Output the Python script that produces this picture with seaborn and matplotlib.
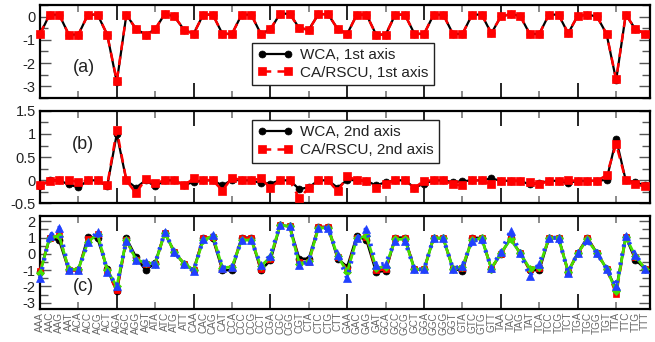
import matplotlib
matplotlib.use("Agg")
import matplotlib.pyplot as plt
import numpy as np
import pandas as pd
import seaborn as sns

sns.set_theme(style="white")
plt.rcParams["font.family"] = ["Liberation Sans", "DejaVu Sans"]
plt.rcParams["axes.unicode_minus"] = False

codons = [
    "AAA", "AAC", "AAG", "AAT", "ACA", "ACC", "ACG", "ACT",
    "AGA", "AGC", "AGG", "AGT", "ATA", "ATC", "ATG", "ATT",
    "CAA", "CAC", "CAG", "CAT", "CCA", "CCC", "CCG", "CCT",
    "CGA", "CGC", "CGG", "CGT", "CTA", "CTC", "CTG", "CTT",
    "GAA", "GAC", "GAG", "GAT", "GCA", "GCC", "GCG", "GCT",
    "GGA", "GGC", "GGG", "GGT", "GTA", "GTC", "GTG", "GTT",
    "TAA", "TAC", "TAG", "TAT", "TCA", "TCC", "TCG", "TCT",
    "TGA", "TGC", "TGG", "TGT", "TTA", "TTC", "TTG", "TTT",
]

# (a) first axis
wca_axis1 = [
    -0.76, 0.09, 0.09, -0.77, -0.77, 0.09, 0.09, -0.77,
    -2.82, 0.09, -0.53, -0.77, -0.55, 0.13, 0.01, -0.56,
    -0.74, 0.09, 0.09, -0.74, -0.74, 0.09, 0.09, -0.74,
    -0.55, 0.13, 0.13, -0.49, -0.56, 0.11, 0.11, -0.53,
    -0.74, 0.09, 0.09, -0.77, -0.77, 0.09, 0.09, -0.74,
    -0.74, 0.09, 0.09, -0.74, -0.74, 0.09, 0.09, -0.72,
    0.01, 0.11, 0.04, -0.74, -0.74, 0.09, 0.09, -0.72,
    0.04, 0.09, 0.01, -0.74, -2.74, 0.09, -0.53, -0.74,
]
rscu_axis1 = [
    -0.74, 0.09, 0.09, -0.77, -0.77, 0.09, 0.09, -0.77,
    -2.77, 0.09, -0.53, -0.77, -0.53, 0.13, 0.01, -0.56,
    -0.74, 0.09, 0.09, -0.74, -0.74, 0.09, 0.09, -0.74,
    -0.53, 0.13, 0.13, -0.49, -0.56, 0.11, 0.11, -0.53,
    -0.74, 0.09, 0.09, -0.77, -0.77, 0.09, 0.09, -0.74,
    -0.74, 0.09, 0.09, -0.74, -0.74, 0.09, 0.09, -0.70,
    0.01, 0.11, 0.04, -0.74, -0.74, 0.09, 0.09, -0.70,
    0.04, 0.09, 0.01, -0.74, -2.70, 0.09, -0.53, -0.74,
]

# (b) second axis
wca_axis2 = [
    -0.13, 0.00, 0.00, -0.09, -0.15, 0.00, 0.00, -0.13,
    1.00, 0.00, -0.16, 0.00, -0.13, 0.00, 0.00, -0.10,
    -0.04, 0.00, 0.00, -0.11, 0.01, 0.00, 0.00, -0.06,
    -0.07, 0.00, 0.00, -0.19, -0.15, 0.00, 0.00, -0.16,
    0.01, 0.00, -0.01, -0.11, -0.04, 0.00, 0.00, -0.16,
    -0.07, 0.00, 0.00, -0.04, -0.02, 0.00, 0.00, 0.04,
    -0.01, -0.01, -0.01, -0.09, -0.06, -0.01, -0.01, -0.06,
    -0.01, -0.01, -0.01, 0.01, 0.89, 0.00, -0.04, -0.11,
]
rscu_axis2 = [
    -0.11, -0.02, 0.00, 0.01, -0.04, 0.00, 0.00, -0.11,
    1.08, 0.00, -0.28, 0.03, -0.06, 0.00, 0.00, -0.11,
    0.04, 0.01, 0.00, -0.22, 0.06, 0.00, 0.00, 0.04,
    -0.16, 0.01, 0.00, -0.39, -0.16, 0.00, 0.00, -0.24,
    0.09, 0.00, -0.01, -0.16, -0.07, 0.00, 0.00, -0.16,
    -0.01, 0.00, 0.00, -0.09, -0.11, 0.00, 0.00, -0.09,
    -0.01, -0.01, -0.01, -0.04, -0.09, -0.01, -0.01, 0.00,
    -0.01, -0.01, -0.01, 0.11, 0.78, 0.00, -0.09, -0.13,
]

# (c) four methods compared
series_c_black = [
    -1.10, 0.95, 0.85, -1.00, -1.00, 1.05, 0.95, -0.90,
    -2.30, 0.95, -0.20, -1.00, -0.55, 1.30, 0.10, -0.60,
    -1.00, 1.00, 0.95, -1.00, -1.00, 1.00, 1.00, -1.00,
    -0.40, 1.75, 1.70, -0.30, -0.30, 1.65, 1.65, -0.30,
    -0.80, 1.10, 0.85, -1.10, -1.05, 1.00, 1.00, -0.95,
    -0.95, 1.00, 0.95, -0.90, -1.05, 1.00, 0.97, -0.90,
    0.00, 0.95, 0.05, -1.00, -1.00, 0.97, 1.00, -1.10,
    0.04, 1.00, 0.04, -0.90, -2.20, 1.05, -0.35, -0.90,
]
series_c_red = [
    -1.05, 0.95, 1.15, -1.00, -1.00, 0.90, 1.25, -1.05,
    -2.25, 0.85, -0.35, -0.60, -0.60, 1.30, 0.10, -0.60,
    -1.00, 0.95, 1.05, -0.90, -0.85, 0.95, 0.95, -0.90,
    -0.30, 1.75, 1.70, -0.50, -0.50, 1.65, 1.65, -0.20,
    -1.00, 1.00, 1.05, -1.00, -0.95, 0.95, 0.95, -0.95,
    -0.95, 1.00, 0.95, -0.90, -0.85, 0.95, 0.97, -0.90,
    0.00, 0.95, 0.05, -0.95, -0.85, 0.97, 1.00, -1.10,
    0.04, 0.95, 0.04, -0.90, -2.45, 1.05, -0.20, -0.90,
]
series_c_green = [
    -1.20, 1.00, 1.10, -0.95, -0.95, 0.75, 1.20, -1.00,
    -2.00, 0.85, -0.35, -0.55, -0.60, 1.30, 0.10, -0.60,
    -1.00, 0.85, 1.10, -0.85, -0.80, 0.85, 0.85, -0.75,
    -0.20, 1.75, 1.70, -0.60, -0.45, 1.60, 1.60, -0.15,
    -1.10, 0.95, 1.10, -0.85, -0.80, 0.90, 0.90, -0.95,
    -0.95, 1.00, 0.95, -0.90, -0.80, 0.85, 0.95, -0.90,
    0.05, 0.90, 0.05, -0.90, -0.80, 0.97, 1.00, -1.10,
    0.04, 0.90, 0.04, -0.90, -2.30, 1.05, -0.15, -0.90,
]
series_c_blue = [
    -1.50, 1.10, 1.60, -1.00, -1.00, 0.70, 1.35, -1.10,
    -1.95, 0.80, -0.40, -0.50, -0.60, 1.35, 0.10, -0.60,
    -1.05, 0.90, 1.15, -0.85, -0.80, 0.85, 0.85, -0.70,
    -0.10, 1.78, 1.70, -0.70, -0.45, 1.60, 1.60, -0.05,
    -1.50, 0.95, 1.55, -0.70, -0.60, 0.80, 0.80, -0.95,
    -0.95, 1.00, 0.95, -0.90, -0.75, 0.80, 0.90, -0.85,
    0.10, 1.40, 0.05, -1.35, -0.60, 0.97, 1.00, -1.15,
    0.04, 0.85, 0.04, -0.90, -2.00, 1.10, -0.05, -0.90,
]

x = np.arange(len(codons))

fig, axes = plt.subplots(3, 1, sharex=True, figsize=(6.55, 3.42), dpi=100)
fig.subplots_adjust(left=0.061, right=0.992, top=0.985, bottom=0.096, hspace=0.14)

text_color = "#222222"
tick_gray = "#555555"


def draw(ax, values, color, ls, marker, ms, lw, label=None, mec=None, z=2):
    sns.lineplot(x=x, y=values, ax=ax, color=color, linestyle=ls, marker=marker,
                 markersize=ms, linewidth=lw, markeredgecolor=mec or color,
                 markeredgewidth=0.5, label=label, sort=False, clip_on=False,
                 zorder=z, legend=False)


ax_a, ax_b, ax_c = axes

draw(ax_a, wca_axis1, "black", "-", "o", 5, 1.6, "WCA, 1st axis", z=2)
draw(ax_a, rscu_axis1, "#ff0000", (0, (3.5, 2.5)), "s", 5.2, 1.8, "CA/RSCU, 1st axis", z=3)

draw(ax_b, wca_axis2, "black", "-", "o", 5, 1.6, "WCA, 2nd axis", z=2)
draw(ax_b, rscu_axis2, "#ff0000", (0, (3.5, 2.5)), "s", 5.2, 1.8, "CA/RSCU, 2nd axis", z=3)

draw(ax_c, series_c_black, "black", "-", "o", 5, 1.8, z=2)
draw(ax_c, series_c_red, "#ff0000", (0, (3.5, 2.5)), "s", 4.8, 2.0, z=3)
draw(ax_c, series_c_green, "#44e000", "-", "D", 4.0, 2.0, z=4)
draw(ax_c, series_c_blue, "#2040ff", (0, (0.6, 1.6)), "^", 5.5, 3.0, z=5)

ax_a.set_ylim(-3.5, 0.5)
ax_a.set_yticks([0, -1, -2, -3])
ax_a.set_yticks(np.arange(-3.5, 0.51, 0.5), minor=True)

ax_b.set_ylim(-0.5, 1.5)
ax_b.set_yticks([-0.5, 0, 0.5, 1, 1.5])
ax_b.set_yticks(np.arange(-0.5, 1.51, 0.25), minor=True)

ax_c.set_ylim(-3.4, 2.3)
ax_c.set_yticks([2, 1, 0, -1, -2, -3])
ax_c.set_yticks(np.arange(-3.0, 2.01, 0.5), minor=True)

major_x = list(range(0, 64, 4))
for ax in axes:
    ax.set_xlim(0, 63.5)
    ax.xaxis.remove_overlapping_locs = False
    ax.yaxis.set_major_formatter(matplotlib.ticker.FormatStrFormatter("%g"))
    for sp in ax.spines.values():
        sp.set_linewidth(1.6)
        sp.set_color("black")
    ax.set_xlabel("")
    ax.set_ylabel("")
    ax.tick_params(axis="y", which="both", direction="in", left=True, right=True,
                   color=tick_gray, width=1.0, labelsize=10.5, labelcolor=text_color, pad=3)
    ax.tick_params(axis="y", which="major", length=8)
    ax.tick_params(axis="y", which="minor", length=6)
    # codon labels sit on minor ticks, tick marks every four codons on major ticks
    ax.set_xticks(major_x)
    ax.set_xticks(x, minor=True)
    ax.tick_params(axis="x", which="minor", length=0, bottom=True, top=False)
    ax.tick_params(axis="x", which="major", direction="in", bottom=True, top=True,
                   labelbottom=False, width=1.2)
    for tick, loc in zip(ax.xaxis.get_major_ticks(), major_x):
        long_tick = loc % 8 == 0
        for tl in (tick.tick1line, tick.tick2line):
            tl.set_markersize(11 if long_tick else 5)
            tl.set_markeredgecolor("black" if long_tick else "#777777")
    ax.grid(False)

ax_c.set_xticklabels(codons, minor=True, rotation=90, fontsize=7.2, color="#666666")
ax_c.tick_params(axis="x", which="minor", labelbottom=True, pad=2)
ax_a.tick_params(axis="x", which="both", labelbottom=False)
ax_b.tick_params(axis="x", which="both", labelbottom=False)

ax_a.text(0.072, 0.33, "(a)", transform=ax_a.transAxes, fontsize=13,
          ha="center", va="center", color=text_color)
ax_b.text(0.071, 0.64, "(b)", transform=ax_b.transAxes, fontsize=13,
          ha="center", va="center", color=text_color)
ax_c.text(0.071, 0.24, "(c)", transform=ax_c.transAxes, fontsize=13,
          ha="center", va="center", color=text_color)

legend_kw = dict(loc="upper left", numpoints=2, fancybox=False, framealpha=1,
                 edgecolor="#222222", fontsize=11, handlelength=2.3,
                 borderpad=0.35, labelspacing=0.25, handletextpad=0.5,
                 borderaxespad=0.0)
for ax, anchor in ((ax_a, (0.348, 0.596)), (ax_b, (0.348, 0.90))):
    leg = ax.legend(bbox_to_anchor=anchor, **legend_kw)
    leg.get_frame().set_linewidth(1.0)
    for t in leg.get_texts():
        t.set_color(text_color)

fig.savefig("out.png", dpi=100)
